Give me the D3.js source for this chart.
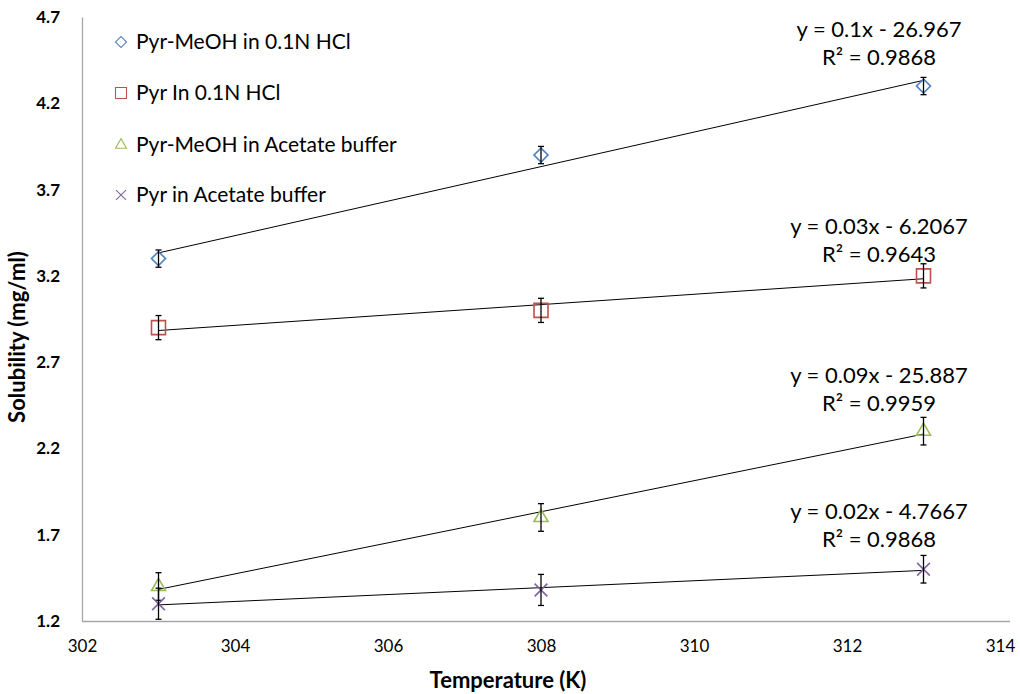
<!DOCTYPE html>
<html>
<head>
<meta charset="utf-8">
<script src="https://cdn.jsdelivr.net/npm/d3@7/dist/d3.min.js"></script>
<style>
  html, body { margin: 0; padding: 0; background: #fff; }
  svg { display: block; font-family: Lato, "Open Sans", sans-serif; }
</style>
</head>
<body>
<svg id="chart" width="1020" height="694"></svg>
<script>
// Temperatures (K) and solubility (mg/ml) per preparation
const temperatures = [303, 308, 313];
const seriesNames = [
  "Pyr-MeOH in 0.1N HCl",
  "Pyr In 0.1N HCl",
  "Pyr-MeOH in Acetate buffer",
  "Pyr in Acetate buffer"
];
const meohHcl = [3.3, 3.9, 4.3];
const pyrHcl = [2.9, 3.0, 3.2];
const meohAcetate = [1.4, 1.8, 2.3];
const pyrAcetate = [1.3, 1.38, 1.5];
const errMeohHcl = [0.05, 0.05, 0.05];
const errPyrHcl = [0.07, 0.07, 0.07];
const errMeohAcetate = [0.08, 0.08, 0.08];
const errPyrAcetate = [0.09, 0.09, 0.08];
// Linear trendline coefficients and fit quality
const slopes = [0.1, 0.03, 0.09, 0.02];
const intercepts = [-26.967, -6.2067, -25.887, -4.7667];
const rSquared = ["0.9868", "0.9643", "0.9959", "0.9868"];
const xTickValues = [302, 304, 306, 308, 310, 312, 314];
const yTickValues = [1.2, 1.7, 2.2, 2.7, 3.2, 3.7, 4.2, 4.7];

const colors = ["#4f81bd", "#c0504d", "#9bbb59", "#8064a2"];
const shapes = ["diamond", "square", "triangle", "times"];
const values = [meohHcl, pyrHcl, meohAcetate, pyrAcetate];
const errors = [errMeohHcl, errPyrHcl, errMeohAcetate, errPyrAcetate];

const svg = d3.select("#chart");
const x = d3.scaleLinear().domain([302, 314]).range([82, 1000]);
const y = d3.scaleLinear().domain([1.2, 4.7]).range([621, 17]);

// Axes: plain grey lines with no tick marks
const xAxis = svg.append("g")
  .attr("transform", `translate(0,${y(1.2)})`)
  .call(d3.axisBottom(x).tickValues(xTickValues).tickSize(0).tickPadding(19).tickFormat(d3.format("d")));
xAxis.select(".domain").attr("stroke", "#a6a6a6").attr("stroke-width", 1.3).attr("d", `M${x(302)},0.5H1010`);
xAxis.selectAll("text").attr("font-size", 17).attr("fill", "#000").attr("font-family", "Lato, sans-serif");

const yAxis = svg.append("g")
  .attr("transform", `translate(${x(302)},0)`)
  .call(d3.axisLeft(y).tickValues(yTickValues).tickSize(0).tickPadding(22).tickFormat(d3.format(".1f")));
yAxis.select(".domain").attr("stroke", "#a6a6a6").attr("stroke-width", 1.3);
yAxis.selectAll("text").attr("font-size", 17).attr("font-weight", 700).attr("fill", "#000").attr("font-family", "Lato, sans-serif");

// Axis titles
svg.append("text")
  .attr("x", 508).attr("y", 688)
  .attr("text-anchor", "middle")
  .attr("font-size", 22).attr("font-weight", 700)
  .text("Temperature (K)");
svg.append("text")
  .attr("transform", `translate(25,${(17 + 621) / 2 + 18}) rotate(-90)`)
  .attr("text-anchor", "middle")
  .attr("font-size", 22).attr("font-weight", 700)
  .text("Solubility (mg/ml)");

function symbolPath(shape, size) {
  if (shape === "diamond") return d3.symbol(d3.symbolSquare, size * size / 2)();
  if (shape === "square") return d3.symbol(d3.symbolSquare, size * size)();
  if (shape === "triangle") return d3.symbol(d3.symbolTriangle, size * size * 0.433)();
  return d3.symbol(d3.symbolTimes, size * size * 0.55)();
}
function rotation(shape) { return shape === "diamond" ? " rotate(45)" : ""; }

// Trendlines
const line = d3.line().x(d => x(d[0])).y(d => y(d[1]));
slopes.forEach((m, i) => {
  const ends = [temperatures[0], temperatures[temperatures.length - 1]].map(t => [t, m * t + intercepts[i]]);
  svg.append("path").attr("d", line(ends))
    .attr("fill", "none").attr("stroke", "#000").attr("stroke-width", 1);
});

// Markers with error bars
values.forEach((vals, i) => {
  const g = svg.append("g");
  const pts = temperatures.map((t, j) => ({ t, v: vals[j], e: errors[i][j] }));
  g.selectAll("path.marker").data(pts).join("path")
    .attr("class", "marker")
    .attr("transform", d => `translate(${x(d.t)},${y(d.v)})${rotation(shapes[i])}`)
    .attr("d", symbolPath(shapes[i], 14))
    .attr("fill", "none")
    .attr("stroke", colors[i])
    .attr("stroke-width", 1.6);
  const eb = g.selectAll("g.err").data(pts).join("g").attr("class", "err")
    .attr("stroke", "#000").attr("stroke-width", 1.3);
  eb.append("line")
    .attr("x1", d => x(d.t)).attr("x2", d => x(d.t))
    .attr("y1", d => y(d.v + d.e)).attr("y2", d => y(d.v - d.e));
  eb.append("line")
    .attr("x1", d => x(d.t) - 3).attr("x2", d => x(d.t) + 3)
    .attr("y1", d => y(d.v + d.e)).attr("y2", d => y(d.v + d.e));
  eb.append("line")
    .attr("x1", d => x(d.t) - 3).attr("x2", d => x(d.t) + 3)
    .attr("y1", d => y(d.v - d.e)).attr("y2", d => y(d.v - d.e));
});

// Trendline equations, placed above the last point of each series
const eqTop = [29, 226, 375, 511];
slopes.forEach((m, i) => {
  const cx = 879;
  const b = intercepts[i];
  svg.append("text").attr("x", cx).attr("y", eqTop[i] + 8)
    .attr("text-anchor", "middle").attr("font-size", 22)
    .text(`y = ${m}x ${b < 0 ? "-" : "+"} ${Math.abs(b)}`);
  svg.append("text").attr("x", cx).attr("y", eqTop[i] + 36)
    .attr("text-anchor", "middle").attr("font-size", 22)
    .text(`R² = ${rSquared[i]}`);
});

// Legend
const legendY = [42, 93, 145, 195];
seriesNames.forEach((name, i) => {
  const g = svg.append("g").attr("transform", `translate(121,${legendY[i]})`);
  g.append("path")
    .attr("transform", rotation(shapes[i]))
    .attr("d", symbolPath(shapes[i], 11))
    .attr("fill", "none").attr("stroke", colors[i]).attr("stroke-width", 1.1);
  g.append("text").attr("x", 15).attr("y", 7)
    .attr("font-size", 21).text(name);
});
</script>
</body>
</html>
